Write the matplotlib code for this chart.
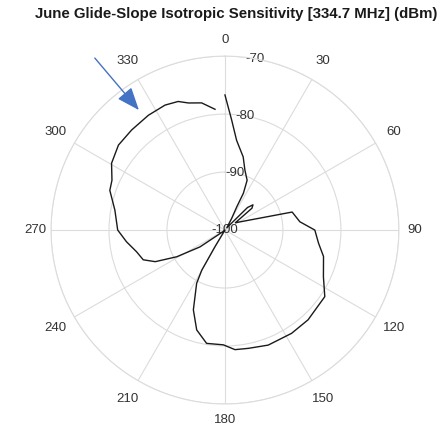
import numpy as np
import matplotlib
matplotlib.use("Agg")
import matplotlib.pyplot as plt

# angle (deg, clockwise from north) and sensitivity (dBm)
theta_deg = [0, 3.5, 7.4, 14, 18.4, 24, 26.6, 27, 30, 40,
             45, 48, 51, 55, 75, 83.7, 90, 98, 105, 115.4,
             123.7, 137.2, 147.2, 159.4, 168.8, 175.2, 180.8, 189.2, 195.8, 201.6,
             208, 210, 211, 220, 232, 236, 241, 245.6, 250, 256.2,
             263.2, 270, 280.3, 289, 293.8, 300.5, 308.6, 317, 326.3, 334.4,
             340, 344, 349.6, 355.3]
sens_dbm = [-76.7, -81.0, -84.4, -87.0, -89.1, -90.6, -92.9, -95.5, -97.7, -99.5,
            -94.5, -93.5, -94.0, -97.8, -88.0, -87.0, -84.5, -83.7, -82.4, -81.2,
            -79.3, -78.9, -78.8, -78.8, -79.2, -79.3, -80.2, -80.2, -82.1, -85.2,
            -89.6, -92.0, -96.7, -100.0, -99.5, -94.8, -90.5, -86.8, -85.0, -84.3,
            -82.9, -81.5, -80.7, -79.0, -78.7, -77.3, -76.5, -76.4, -76.2, -76.1,
            -76.4, -77.2, -77.7, -79.1]

r_ticks = [-100, -90, -80, -70]
theta_ticks = list(range(0, 360, 30))

title = "June Glide-Slope Isotropic Sensitivity [334.7 MHz] (dBm)"

plt.rcParams["font.family"] = ["Liberation Sans", "DejaVu Sans"]
plt.rcParams["axes.unicode_minus"] = False
txt = "#333333"
grid = "#dcdcdc"

fig = plt.figure(figsize=(4.41, 4.30), dpi=100, facecolor="white")
ax = fig.add_axes([0.1156, 0.0605, 0.789, 0.809], projection="polar")
ax.set_theta_zero_location("N")
ax.set_theta_direction(-1)

ax.plot(np.deg2rad(theta_deg), sens_dbm, color="#1a1a1a", lw=1.0)

ax.set_rlim(-100, -70)
ax.set_rticks(r_ticks)
ax.set_rlabel_position(10)
ax.set_thetagrids(theta_ticks, [""] * len(theta_ticks))
# angle labels centred just outside the plot (diagonal ones sit a bit further out)
for t in theta_ticks:
    rr = -67.3 if t % 90 == 0 else -66.3
    ax.text(np.deg2rad(t), rr, str(t), ha="center", va="center",
            fontsize=9.5, color=txt, clip_on=False)
ax.tick_params(axis="y", labelsize=9.5, colors=txt)
for lab in ax.get_yticklabels():
    lab.set_horizontalalignment("center")
    lab.set_verticalalignment("center")
ax.grid(True, color=grid, lw=0.8)
ax.spines["polar"].set_color(grid)
ax.spines["polar"].set_linewidth(0.8)

fig.text(0.535, 0.967, title, ha="center", va="center",
         fontsize=10.8, fontweight="bold", color="#1a1a1a")

# blue pointer arrow
fig.add_artist(matplotlib.patches.FancyArrowPatch(
    (0.215, 0.865), (0.315, 0.744), transform=fig.transFigure,
    arrowstyle="-|>,head_length=1.4,head_width=0.55", mutation_scale=10,
    color="#4472C4", lw=1.0, shrinkA=0, shrinkB=0))

fig.savefig("out.png", dpi=100, facecolor="white")
